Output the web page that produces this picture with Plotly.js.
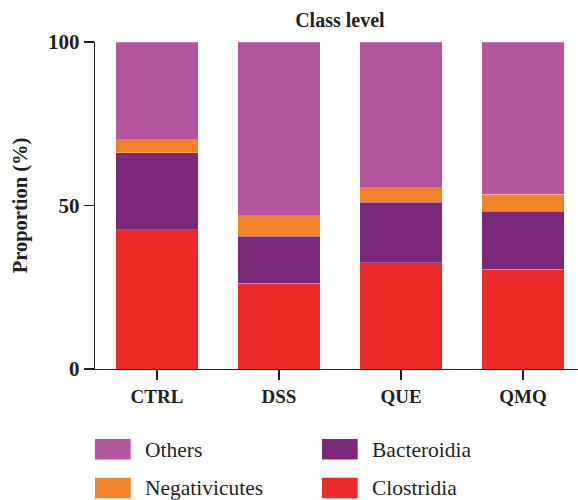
<!DOCTYPE html>
<html>
<head>
<meta charset="utf-8">
<script src="https://cdn.plot.ly/plotly-3.0.1.min.js"></script>
<style>html,body{margin:0;padding:0;background:#fff;}#chart{width:578px;height:500px;}</style>
</head>
<body>
<div id="chart"></div>
<script>
// ---- data ----
var categories = ["CTRL", "DSS", "QUE", "QMQ"];
var clostridia = [42.6, 26.2, 32.5, 30.5];
var bacteroidia = [23.5, 14.4, 18.5, 17.7];
var negativicutes = [4.0, 6.2, 4.5, 5.3];
var others = [29.9, 53.2, 44.5, 46.5];
var seriesNames = ["Clostridia", "Bacteroidia", "Negativicutes", "Others"];
var seriesColors = ["#EC2A29", "#7B287B", "#F2832B", "#B455A0"];
var yTicks = [0, 50, 100];
var chartTitle = "Class level";
var yTitle = "Proportion (%)";
// legend order (row-major, two columns)
var legendOrder = ["Others", "Bacteroidia", "Negativicutes", "Clostridia"];

var seriesValues = [clostridia, bacteroidia, negativicutes, others];
var ink = "#231F20";
var serif = "Liberation Serif, Times New Roman, serif";

var traces = seriesNames.map(function (name, i) {
  return {
    type: "bar",
    name: name,
    x: categories,
    y: seriesValues[i],
    width: 0.68,
    marker: { color: seriesColors[i], line: { color: "rgba(255,255,255,0.35)", width: 0.6 } },
    showlegend: false,
    hoverinfo: "x+y+name"
  };
});

// plot area geometry (px) for placing the custom legend
var L = 95, T = 42, W = 483, H = 327;
function px2x(px) { return (px - L) / W; }
function py2y(py) { return (T + H - py) / H; }

var shapes = [];
var annotations = [];
var colX = [95, 322];
var rowY = [439, 477.7];
legendOrder.forEach(function (name, k) {
  var idx = seriesNames.indexOf(name);
  var cx = colX[k % 2], ry = rowY[Math.floor(k / 2)];
  shapes.push({
    type: "rect", xref: "paper", yref: "paper",
    x0: px2x(cx), x1: px2x(cx + 35.7), y0: py2y(ry), y1: py2y(ry + 20.5),
    fillcolor: seriesColors[idx], line: { width: 0 }
  });
  annotations.push({
    xref: "paper", yref: "paper", x: px2x(cx + 48), y: py2y(ry + 10.5),
    xanchor: "left", yanchor: "middle", showarrow: false,
    text: name, font: { family: serif, size: 21.5, color: ink }
  });
});

var layout = {
  width: 578, height: 500,
  margin: { l: L, r: 0, t: T, b: 500 - T - H, pad: 0 },
  paper_bgcolor: "#fff", plot_bgcolor: "#fff",
  barmode: "stack",
  bargap: 0.32,
  title: {
    text: chartTitle,
    font: { family: serif, size: 20, color: ink, weight: "bold" },
    x: 0.588, xref: "container", xanchor: "center",
    y: 0.961, yref: "container", yanchor: "middle"
  },
  xaxis: {
    type: "category",
    range: [-0.508, 3.451],
    showgrid: false, zeroline: false,
    showline: true, linecolor: ink, linewidth: 1.3,
    ticks: "outside", ticklen: 10, tickwidth: 1.3, tickcolor: ink,
    ticklabelstandoff: 0,
    tickfont: { family: serif, size: 19, color: ink, weight: "bold" }
  },
  yaxis: {
    range: [0, 100],
    tickvals: yTicks,
    showgrid: false, zeroline: false,
    showline: true, linecolor: ink, linewidth: 1.3,
    ticks: "outside", ticklen: 10, tickwidth: 1.3, tickcolor: ink,
    tickfont: { family: serif, size: 21, color: ink, weight: "bold" },
    title: { text: yTitle, standoff: 14, font: { family: serif, size: 20.5, color: ink, weight: "bold" } }
  },
  shapes: shapes,
  annotations: annotations,
  showlegend: false
};

Plotly.newPlot("chart", traces, layout, { displayModeBar: false, staticPlot: true });
</script>
</body>
</html>
